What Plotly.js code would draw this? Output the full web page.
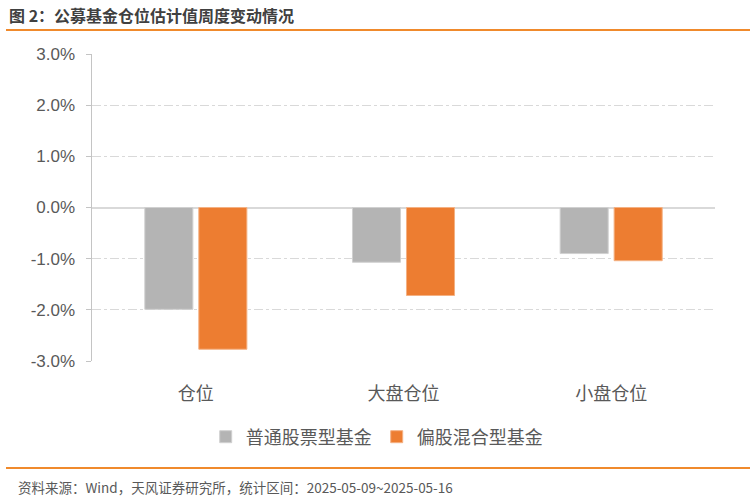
<!DOCTYPE html>
<html><head><meta charset="utf-8">
<script src="https://cdn.plot.ly/plotly-3.0.1.min.js"></script>
<style>body{margin:0;background:#fff}#chart{width:755px;height:498px}</style>
</head><body><div id="chart"></div>
<script>
const categories = ['仓位', '大盘仓位', '小盘仓位'];
const seriesNames = ['普通股票型基金', '偏股混合型基金'];
const stockFund = [-1.99, -1.07, -0.90];
const mixedFund = [-2.77, -1.72, -1.04];
const yTicks = [-3, -2, -1, 0, 1, 2, 3];
const yTickLabels = ['-3.0%', '-2.0%', '-1.0%', '0.0%', '1.0%', '2.0%', '3.0%'];
const titleText = '图 2：公募基金仓位估计值周度变动情况';
const sourceText = '资料来源：Wind，天风证券研究所，统计区间：2025-05-09~2025-05-16';

const W = 755, H = 498, L = 92, R = 40, T = 54, B = 137;
const pw = W - L - R, ph = H - T - B;
const px = x => (x - L) / pw;
const py = y => (H - B - y) / ph;
const cjk = '"Noto Sans CJK SC", "Liberation Sans", sans-serif';

const traces = [
  {type: 'bar', name: seriesNames[0], x: categories, y: stockFund,
   marker: {color: '#b4b4b4', line: {color: '#d0d0d0', width: 1}}},
  {type: 'bar', name: seriesNames[1], x: categories, y: mixedFund,
   marker: {color: '#ed7d31', line: {color: '#f4b183', width: 1}}}
];

const layout = {
  width: W, height: H,
  margin: {l: L, r: R, t: T, b: B, pad: 0},
  paper_bgcolor: '#fff', plot_bgcolor: '#fff',
  barmode: 'group', bargap: 0.48, bargroupgap: 0.11,
  showlegend: true,
  legend: {orientation: 'h', x: 0.457, xanchor: 'center', y: py(437), yanchor: 'middle',
    font: {family: cjk, size: 18, color: '#595959'}, itemwidth: 30, traceorder: 'normal'},
  xaxis: {type: 'category', showgrid: false, showline: false, zeroline: false,
    ticks: '', ticklabelstandoff: 20, tickfont: {family: cjk, size: 18, color: '#595959'}, fixedrange: true},
  yaxis: {range: [-3, 3], tickvals: yTicks, ticktext: yTickLabels,
    tickfont: {family: '"Liberation Sans", Arial, sans-serif', size: 17, color: '#595959'},
    ticklabelstandoff: 7,
    showgrid: true, gridcolor: '#d9d9d9', griddash: 'dashdot', gridwidth: 1,
    zeroline: true, zerolinecolor: '#d9d9d9', zerolinewidth: 2,
    showline: true, linecolor: '#c4c4c4', linewidth: 1.5,
    ticks: 'outside', ticklen: 5, tickcolor: '#c4c4c4', tickwidth: 1, fixedrange: true},
  shapes: [
    {type: 'line', xref: 'paper', yref: 'paper', x0: px(6), x1: px(750), y0: py(30), y1: py(30),
     line: {color: '#f08a2c', width: 2}},
    {type: 'line', xref: 'paper', yref: 'paper', x0: px(6), x1: px(750), y0: py(468), y1: py(468),
     line: {color: '#f08a2c', width: 2}}
  ],
  annotations: [
    {xref: 'paper', yref: 'paper', x: px(7), y: py(15), xanchor: 'left', yanchor: 'middle',
     showarrow: false, text: '<b>' + titleText + '</b>',
     font: {family: cjk, size: 16, color: '#404040'}},
    {xref: 'paper', yref: 'paper', x: px(16), y: py(487), xanchor: 'left', yanchor: 'middle',
     showarrow: false, text: sourceText,
     font: {family: cjk, size: 13.5, color: '#595959'}}
  ]
};

Plotly.newPlot('chart', traces, layout, {displayModeBar: false, staticPlot: true});
</script></body></html>
